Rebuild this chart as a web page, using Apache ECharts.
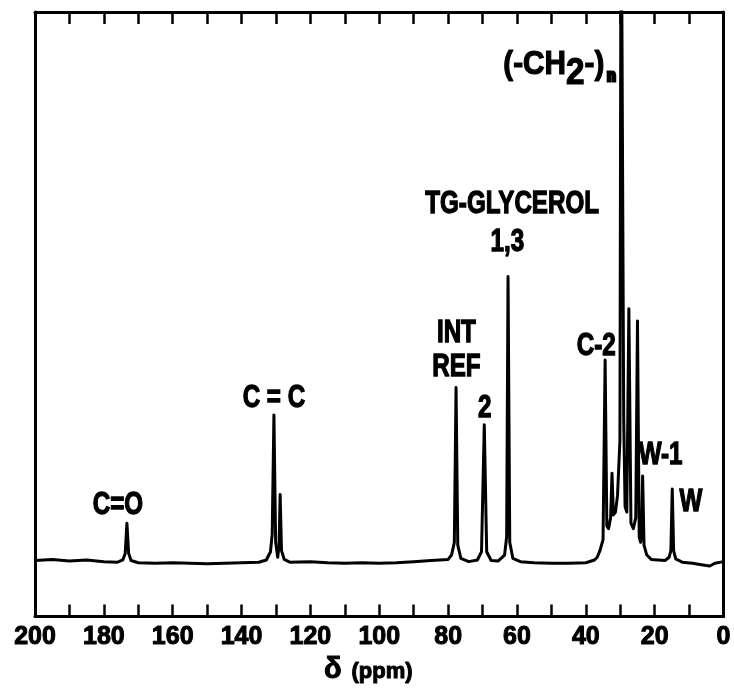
<!DOCTYPE html>
<html>
<head>
<meta charset="utf-8">
<script src="https://cdn.jsdelivr.net/npm/echarts@6/dist/echarts.min.js"></script>
<style>
html,body{margin:0;padding:0;background:#fff;}
#chart{width:734px;height:690px;}
</style>
</head>
<body>
<div id="chart"></div>
<script>
// chemical shift (ppm) read along the trace, and intensity above baseline (arbitrary units)
var shiftPpm = [200, 195, 190, 185, 180, 176, 174.5, 173.8, 173.3, 172.8, 172.1, 170, 165, 160, 155, 150, 145, 140, 135,
  132.8, 131.6, 131.1, 130.6, 130.1, 129.5, 129.1, 128.8, 128.4, 127.6, 126, 120, 115, 110, 105, 100, 95, 90, 85, 80,
  79.0, 78.2, 77.7, 77.2, 76.3, 74, 71.5, 70.3, 69.5, 68.8, 67.5, 65.5, 63.6, 63.0, 62.6, 62.1, 61.2, 59, 55, 50, 45, 40,
  37.5, 36.7, 35.9, 35.0, 34.4, 33.9, 33.4, 32.8, 32.4, 32.0, 31.4, 30.8, 30.1, 29.75, 29.45, 29.0, 28.6, 28.1, 27.5, 26.9, 26.2,
  25.5, 25.0, 24.5, 24.1, 23.8, 23.5, 23.1, 22.3, 21, 19, 17, 15.8, 15.3, 14.9, 14.5, 13.9, 12, 9, 6, 4, 2.5, 0];
var intensity = [0.2, 0.4, 0.1, 0.3, 0.0, -0.1, 0.3, 1.5, 7.0, 1.5, 0.2, -0.2, -0.3, -0.2, -0.3, -0.4, -0.3, -0.2, -0.1,
  0.3, 1.8, 5.0, 26.7, 3.5, 0.8, 3.0, 12.2, 2.0, 0.4, -0.1, 0.0, -0.2, -0.3, -0.2, -0.3, -0.2, 0.0, 0.2, 0.4,
  1.2, 3.5, 31.7, 3.0, 0.6, 0.0, 0.3, 1.8, 24.9, 1.8, 0.2, 0.1, 1.2, 4.5, 51.9, 3.5, 0.6, 0.0, -0.2, -0.3, -0.3, -0.2,
  0.3, 0.8, 2.0, 4.0, 36.7, 6.5, 6.0, 8.0, 16.1, 8.5, 9.0, 12.0, 22.0, 130, 130, 26.0, 10.0, 9.0, 46.0, 7.0, 6.0,
  8.0, 43.8, 4.5, 3.5, 5.0, 15.6, 3.0, 1.2, 0.4, 0.3, 0.2, 0.8, 2.0, 13.2, 2.0, 0.5, -0.1, -0.3, -0.6, -0.8, -0.3, 0.0];

// x tick labels
var tickLabels = [200, 180, 160, 140, 120, 100, 80, 60, 40, 20, 0];

// peak annotations: text, anchor shift (ppm), anchor intensity
var annText = ['C=O', 'C = C', 'INT', 'REF', '2', 'TG-GLYCEROL', '1,3', 'C-2', 'W-1', 'W', 'CH2'];
var annPpm = [175.9, 130.6, 77.6, 77.6, 69.4, 61.4, 62.8, 37.0, 18.3, 9.5, 31.3];
var annInt = [10.2, 29.7, 41.5, 35.4, 27.9, 64.9, 58.1, 39.2, 19.3, 10.7, 90.4];

var FONT = '"Liberation Sans", Arial, sans-serif';

var spectrum = shiftPpm.map(function (p, i) { return [p, intensity[i]]; });

var chart = echarts.init(document.getElementById('chart'), null, { renderer: 'canvas' });

var axisCommon = {
  type: 'value', min: 0, max: 200, interval: 10, inverse: true,
  axisLine: { show: true, onZero: false, lineStyle: { color: '#000', width: 3 } },
  axisTick: { show: true, inside: true, length: 12, lineStyle: { color: '#000', width: 2.5 } },
  splitLine: { show: false }
};

chart.setOption({
  backgroundColor: '#fff',
  animation: false,
  grid: { left: 35, right: 4, top: 12, bottom: 63 },
  xAxis: [
    echarts.util.merge({
      position: 'bottom',
      axisLabel: {
        show: true, color: '#000', fontFamily: FONT, fontWeight: 'bold', fontSize: 25, margin: 8,
        textBorderColor: '#000', textBorderWidth: 1,
        formatter: function (v) { return tickLabels.indexOf(v) >= 0 ? String(v) : ''; }
      },
      name: '{d|δ}{g|}{p|(ppm)}',
      nameLocation: 'middle', nameGap: 36,
      nameTextStyle: {
        padding: [0, 22, 0, 0],
        rich: {
          d: { fontFamily: FONT, fontWeight: 'bold', fontSize: 29, color: '#000', textBorderColor: '#000', textBorderWidth: 1 },
          g: { width: 10 },
          p: { fontFamily: FONT, fontWeight: 'bold', fontSize: 22, color: '#000', textBorderColor: '#000', textBorderWidth: 1, padding: [4, 0, 0, 0] }
        }
      }
    }, axisCommon, true),
    echarts.util.merge({ position: 'top', axisLabel: { show: false } }, axisCommon, true)
  ],
  yAxis: [
    { type: 'value', min: -10, max: 100, position: 'left',
      axisLine: { show: true, onZero: false, lineStyle: { color: '#000', width: 3 } },
      axisTick: { show: false }, axisLabel: { show: false }, splitLine: { show: false } },
    { type: 'value', min: -10, max: 100, position: 'right',
      axisLine: { show: true, onZero: false, lineStyle: { color: '#000', width: 3 } },
      axisTick: { show: false }, axisLabel: { show: false }, splitLine: { show: false } }
  ],
  series: [
    {
      type: 'line', data: spectrum, xAxisIndex: 0, yAxisIndex: 0,
      showSymbol: false, symbol: 'none', clip: true,
      lineStyle: { color: '#000', width: 3, join: 'round' }
    }
  ]
});

// annotations placed at data coordinates through the chart's own scales
var graphics = annText.map(function (t, i) {
  var pt = chart.convertToPixel({ xAxisIndex: 0, yAxisIndex: 0 }, [annPpm[i], annInt[i]]);
  if (t === 'CH2') {
    return {
      type: 'text', x: pt[0], y: pt[1], scaleX: 0.9, silent: true,
      style: {
        text: '{a|(-CH}{s|2}{a|-)}{n|n}', align: 'right', verticalAlign: 'middle',
        rich: {
          a: { font: 'bold 33px ' + FONT, fill: '#000', stroke: '#000', lineWidth: 1.2 },
          s: { font: 'bold 37px ' + FONT, fill: '#000', stroke: '#000', lineWidth: 1.2, padding: [18, 0, 0, 0] },
          n: { font: 'bold 16px ' + FONT, fill: '#000', stroke: '#000', lineWidth: 3, padding: [24, 0, 0, 3] }
        }
      }
    };
  }
  return {
    type: 'text', x: pt[0], y: pt[1], scaleX: 0.78, silent: true,
    style: {
      text: t, font: 'bold 31px ' + FONT, fill: '#000', stroke: '#000', lineWidth: 1.3,
      align: 'center', verticalAlign: 'middle'
    }
  };
});
chart.setOption({ graphic: graphics });
</script>
</body>
</html>
